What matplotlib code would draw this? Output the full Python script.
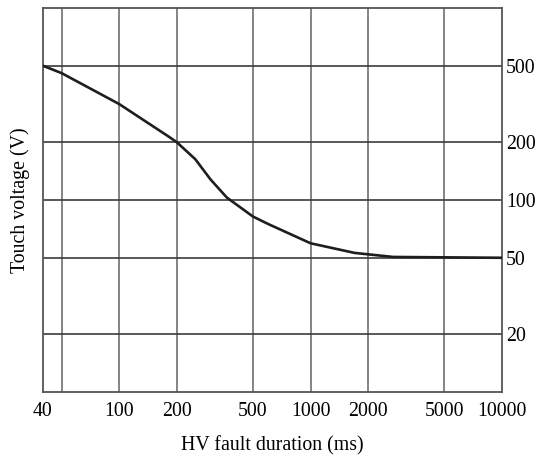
import numpy as np
import matplotlib
matplotlib.use("Agg")
import matplotlib.pyplot as plt
from matplotlib.ticker import FixedLocator, NullLocator, FixedFormatter

# touch voltage vs fault duration
duration_ms = [40, 50, 100, 180, 200, 250, 300, 365, 500, 600, 1000, 1700, 2700, 10000]
touch_v = [500, 458, 316, 215, 200, 163, 128, 103, 82, 75, 59.5, 53, 50.5, 50]

x_grid = [50, 100, 200, 500, 1000, 2000, 5000]
x_ticks = [40, 100, 200, 500, 1000, 2000, 5000, 10000]
y_ticks = [20, 50, 100, 200, 500]

plt.rcParams['font.family'] = ['Liberation Serif', 'DejaVu Serif']

fig = plt.figure(figsize=(5.4, 4.61), dpi=100)
ax = fig.add_axes([0.0796, 0.1497, 0.85, 0.833])

ax.set_xscale('log')
ax.set_yscale('log')
ax.set_xlim(40, 10000)
ax.set_ylim(10, 1000)

for xv in x_grid:
    ax.axvline(xv, color='#7a7a7a', lw=1.3, zorder=1)
for yv in y_ticks:
    ax.axhline(yv, color='#3a3a3a', lw=1.2, zorder=1)

ax.plot(duration_ms, touch_v, color='#1e1e1e', lw=1.9, zorder=3)

ax.xaxis.set_major_locator(FixedLocator(x_ticks))
ax.xaxis.set_major_formatter(FixedFormatter([str(v) for v in x_ticks]))
ax.xaxis.set_minor_locator(NullLocator())
ax.yaxis.set_major_locator(FixedLocator(y_ticks))
ax.yaxis.set_major_formatter(FixedFormatter([str(v) for v in y_ticks]))
ax.yaxis.set_minor_locator(NullLocator())
ax.yaxis.tick_right()
ax.yaxis.set_label_position('left')

ax.tick_params(axis='x', length=0, pad=7, labelsize=14.3)
ax.tick_params(axis='y', length=0, pad=3, labelsize=14.3)

for s in ax.spines.values():
    s.set_color('#555555')
    s.set_linewidth(1.3)

ax.set_xlabel('HV fault duration (ms)', fontsize=14.3, labelpad=11)
ax.set_ylabel('Touch voltage (V)', fontsize=14.3, labelpad=9)

fig.savefig('out.png', dpi=100)
